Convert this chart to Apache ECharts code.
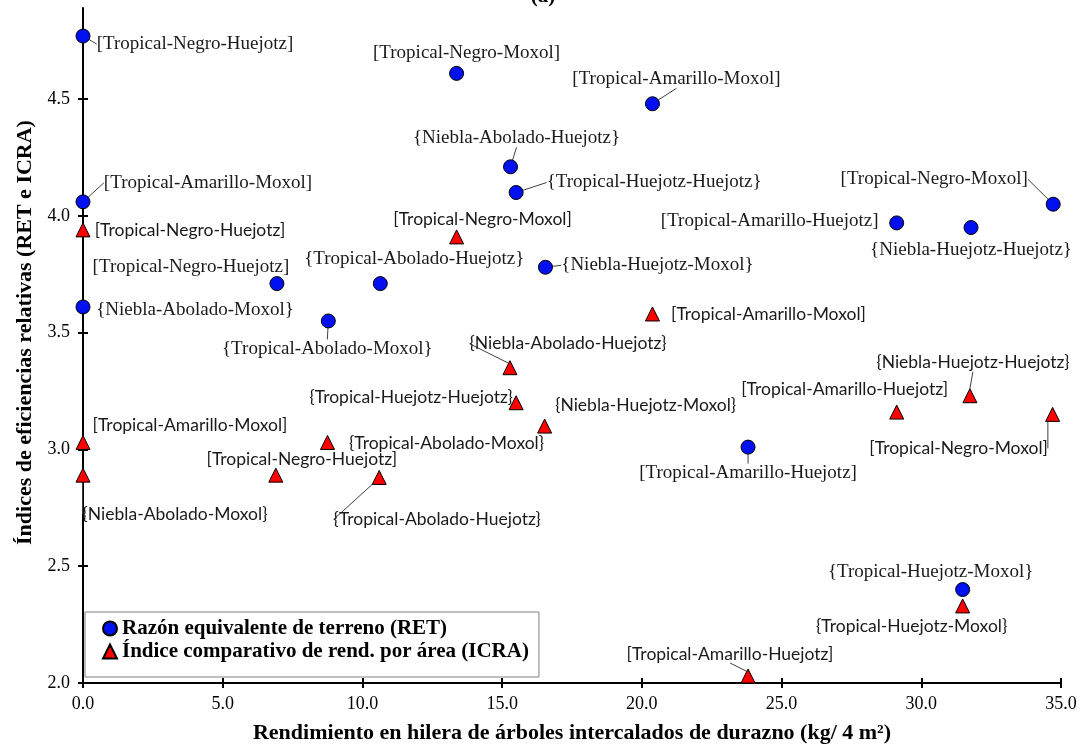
<!DOCTYPE html>
<html><head><meta charset="utf-8">
<script src="https://cdn.jsdelivr.net/npm/echarts@6/dist/echarts.min.js"></script>
<style>html,body{margin:0;padding:0;background:#fff}#c{width:1086px;height:751px}</style>
</head><body><div id="c"></div>
<script>
// ---- data ----
const xTicks = [0, 5, 10, 15, 20, 25, 30, 35];
const yTicks = [2.0, 2.5, 3.0, 3.5, 4.0, 4.5];

const retNames = [
  '[Tropical-Negro-Huejotz]', '[Tropical-Negro-Moxol]', '[Tropical-Amarillo-Moxol]',
  '{Niebla-Abolado-Huejotz}', '{Tropical-Huejotz-Huejotz}', '[Tropical-Amarillo-Moxol]',
  '[Tropical-Amarillo-Huejotz]', '{Niebla-Huejotz-Huejotz}', '[Tropical-Negro-Moxol]',
  '[Tropical-Negro-Huejotz]', '{Tropical-Abolado-Huejotz}', '{Niebla-Abolado-Moxol}',
  '{Tropical-Abolado-Moxol}', '{Niebla-Huejotz-Moxol}', '[Tropical-Amarillo-Huejotz]',
  '{Tropical-Huejotz-Moxol}'
];
const retX = [0, 13.37, 20.38, 15.30, 15.50, 0, 29.12, 31.78, 34.72, 6.94, 10.64, 0, 8.78, 16.55, 23.80, 31.48];
const retY = [4.77, 4.61, 4.48, 4.21, 4.10, 4.06, 3.97, 3.95, 4.05, 3.71, 3.71, 3.61, 3.55, 3.78, 3.01, 2.40];

const icraNames = [
  '[Tropical-Negro-Huejotz]', '[Tropical-Negro-Moxol]', '[Tropical-Amarillo-Moxol]',
  '{Niebla-Abolado-Huejotz}', '{Tropical-Huejotz-Huejotz}', '{Niebla-Huejotz-Moxol}',
  '[Tropical-Amarillo-Huejotz]', '{Niebla-Huejotz-Huejotz}', '[Tropical-Negro-Moxol]',
  '[Tropical-Amarillo-Moxol]', '{Tropical-Abolado-Moxol}', '[Tropical-Negro-Huejotz]',
  '{Tropical-Abolado-Huejotz}', '{Niebla-Abolado-Moxol}', '{Tropical-Huejotz-Moxol}',
  '[Tropical-Amarillo-Huejotz]'
];
const icraX = [0, 13.37, 20.38, 15.28, 15.50, 16.52, 29.12, 31.74, 34.70, 0, 8.75, 6.90, 10.60, 0, 31.48, 23.80];
const icraY = [3.94, 3.91, 3.58, 3.35, 3.20, 3.10, 3.16, 3.23, 3.15, 3.03, 3.03, 2.89, 2.88, 2.89, 2.33, 2.03];

// ---- label layout (pixel offsets of label centre from its mark) ----
const retLabelOffset = [[112,8],[10,-20],[24,-25],[6,-29],[138,-10],[125,-19],[-127,-2],[0,22],
  [-119,-25],[-86,-17],[34,-25],[112,3],[-1,28],[112,-2],[0,26],[-32,-18]];
const retLeader = [1,0,1,1,1,1,0,0,1,0,0,0,1,1,1,0];
const icraLabelOffset = [[107,0],[26,-18],[116,0],[58,-24],[-105,-5],[101,-21],[-52,-23],[3,-33],
  [-94,34],[107,-17],[119,1],[26,-16],[58,42],[92,39],[-51,20],[-18,-22]];
const icraLeader = [0,0,0,1,0,0,0,1,1,0,0,0,1,1,0,1];

const serif = 'Liberation Serif';
const sans = 'Lato';

function buildData(xs, ys, names, leaders) {
  return xs.map((x, i) => ({
    value: [x, ys[i]], name: names[i],
    labelLine: { show: !!leaders[i] }
  }));
}

const chart = echarts.init(document.getElementById('c'), null, { renderer: 'canvas' });

const axisLineStyle = { color: '#000', width: 2 };

chart.setOption({
  animation: false,
  backgroundColor: '#fff',
  title: {
    text: '(a)', left: 'center', top: -19,
    textStyle: { fontFamily: serif, fontWeight: 'bold', fontSize: 21, color: '#000' }
  },
  grid: { left: 83, right: 25, top: 8, bottom: 68, containLabel: false },
  legend: {
    orient: 'vertical', left: 85, top: 612,
    padding: [6, 10, 15, 17], itemGap: 2,
    itemWidth: 14, itemHeight: 14,
    borderColor: '#808080', borderWidth: 1, backgroundColor: '#fff',
    textStyle: { fontFamily: serif, fontWeight: 'bold', fontSize: 21, color: '#000' },
    data: ['Razón equivalente de terreno (RET)', 'Índice comparativo de rend. por área (ICRA)']
  },
  xAxis: [{
    type: 'value', position: 'bottom', min: 0, max: 35,
    name: 'Rendimiento en hilera de árboles intercalados de durazno (kg/ 4 m²)',
    nameLocation: 'middle', nameGap: 39,
    nameTextStyle: { fontFamily: serif, fontWeight: 'bold', fontSize: 22, color: '#000' },
    axisLine: { show: true, onZero: false, lineStyle: axisLineStyle },
    axisTick: { show: true, inside: false, length: 5, lineStyle: axisLineStyle, customValues: xTicks },
    axisLabel: { customValues: xTicks, formatter: v => v.toFixed(1), fontFamily: serif, fontSize: 18, color: '#000', margin: 12 },
    splitLine: { show: false }
  }, {
    type: 'value', position: 'bottom', min: 0, max: 35,
    axisLine: { show: false },
    axisTick: { show: true, inside: true, length: 5, lineStyle: axisLineStyle, customValues: xTicks },
    axisLabel: { show: false }, splitLine: { show: false }
  }],
  yAxis: [{
    type: 'value', position: 'left', min: 2.0, max: 4.89,
    name: 'Índices de eficiencias relativas (RET e ICRA)',
    nameLocation: 'middle', nameGap: 46,
    nameTextStyle: { fontFamily: serif, fontWeight: 'bold', fontSize: 22, color: '#000', padding: [0, 0, 0, 26] },
    axisLine: { show: true, onZero: false, lineStyle: axisLineStyle },
    axisTick: { show: true, inside: false, length: 5, lineStyle: axisLineStyle, customValues: yTicks },
    axisLabel: { customValues: yTicks, formatter: v => v.toFixed(1), fontFamily: serif, fontSize: 18, color: '#000', margin: 13 },
    splitLine: { show: false }
  }, {
    type: 'value', position: 'left', min: 2.0, max: 4.89,
    axisLine: { show: false },
    axisTick: { show: true, inside: true, length: 5, lineStyle: axisLineStyle, customValues: yTicks },
    axisLabel: { show: false }, splitLine: { show: false }
  }],
  series: [{
    name: 'Razón equivalente de terreno (RET)',
    type: 'scatter', xAxisIndex: 0, yAxisIndex: 0,
    symbol: 'circle', symbolSize: 14,
    itemStyle: { color: '#0010F0', borderColor: '#000', borderWidth: 1, opacity: 1 },
    label: { show: true, position: 'inside', formatter: '{b}', fontFamily: serif, fontSize: 19, color: '#1a1a1a' },
    labelLine: { lineStyle: { color: '#404040', width: 1 } },
    labelLayout: p => ({ dx: retLabelOffset[p.dataIndex][0], dy: retLabelOffset[p.dataIndex][1] }),
    emphasis: { disabled: true },
    data: buildData(retX, retY, retNames, retLeader)
  }, {
    name: 'Índice comparativo de rend. por área (ICRA)',
    type: 'scatter', xAxisIndex: 0, yAxisIndex: 0,
    symbol: 'triangle', symbolSize: 14,
    itemStyle: { color: '#FF0000', borderColor: '#000', borderWidth: 1, opacity: 1 },
    label: { show: true, position: 'inside', formatter: '{b}', fontFamily: sans, fontSize: 17.5, color: '#1a1a1a' },
    labelLine: { lineStyle: { color: '#404040', width: 1 } },
    labelLayout: p => ({ dx: icraLabelOffset[p.dataIndex][0], dy: icraLabelOffset[p.dataIndex][1] }),
    emphasis: { disabled: true },
    data: buildData(icraX, icraY, icraNames, icraLeader)
  }]
});
</script>
</body></html>
